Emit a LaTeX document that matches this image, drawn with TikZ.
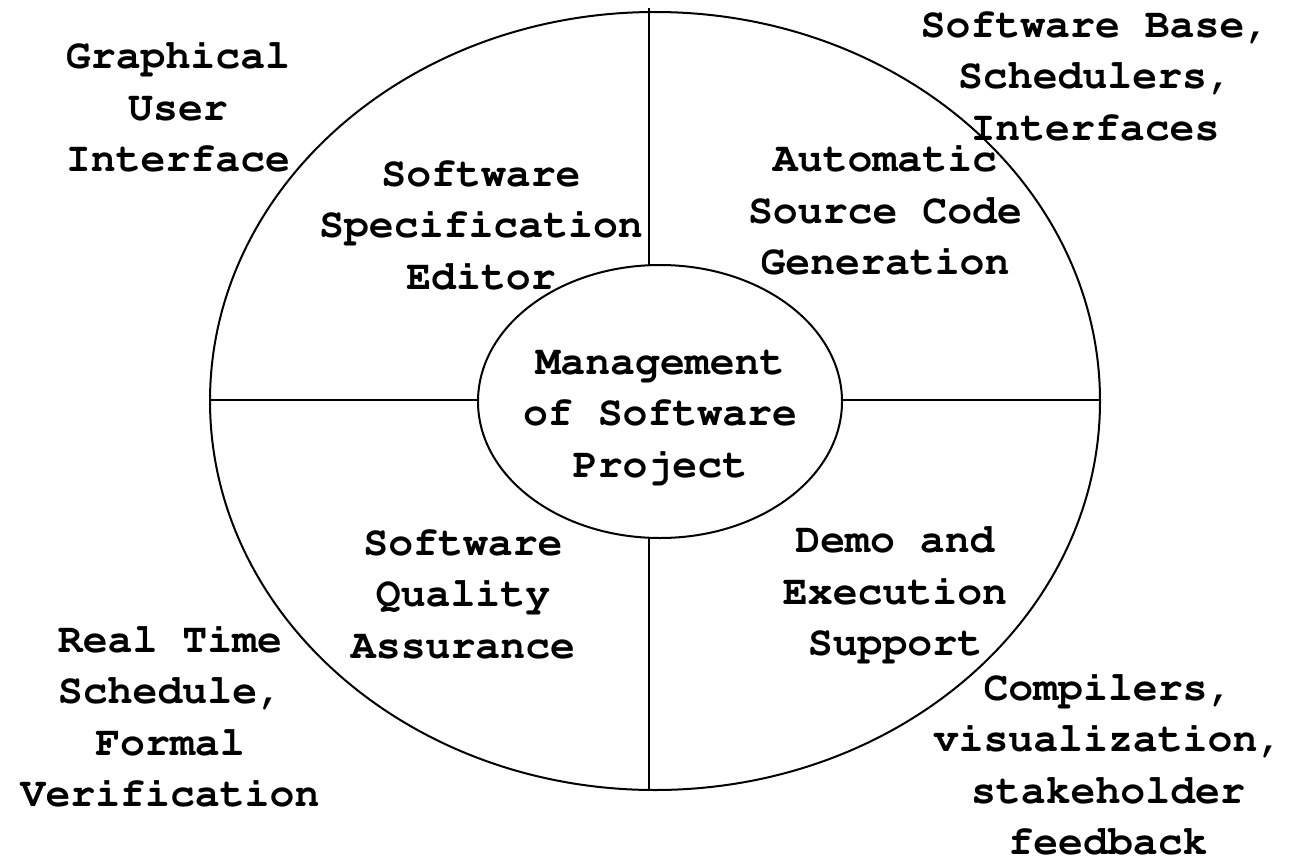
\documentclass[tikz,border=0pt]{standalone}
\usepackage[T1]{fontenc}
\usetikzlibrary{shapes.geometric}
\begin{document}
\begin{tikzpicture}[x=1pt,y=-1pt,
  rim/.style={draw=black,line width=2pt},
  lbl/.style={align=center,inner sep=0pt,
    font=\fontfamily{pcr}\bfseries\fontsize{41.5}{51.5}\selectfont}]
\useasboundingbox (0,0) rectangle (1297,862);
% outer and inner ellipses
\node[rim,ellipse,minimum width=890,minimum height=778,inner sep=0pt] (outer) at (655,401) {};
\node[rim,ellipse,minimum width=364,minimum height=273,inner sep=0pt] (inner) at (660,401.5) {};
% quadrant dividers
\coordinate (top) at (649,8);
\coordinate (bot) at (649,790);
\coordinate (lft) at (210,400);
\coordinate (rgt) at (1100,400);
\coordinate (itop) at (649,265.5);
\coordinate (ibot) at (649,537.5);
\coordinate (ilft) at (478.5,400);
\coordinate (irgt) at (841.5,400);
\draw[line width=2pt] (top) -- (itop);
\draw[line width=2pt] (ibot) -- (bot);
\draw[line width=2pt] (lft) -- (ilft);
\draw[line width=2pt] (irgt) -- (rgt);
% labels
\node[lbl] (mgmt) at (660,417) {Management\\of Software\\Project};
\node[lbl] (spec) at (481,225) {Software\\Specification\\Editor};
\node[lbl] (auto) at (885,210) {Automatic\\Source Code\\Generation};
\node[lbl] (sqa) at (463,594) {Software\\Quality\\Assurance};
\node[lbl] (demo) at (895,594) {Demo and\\Execution\\Support};
\node[lbl] (gui) at (178,107) {Graphical\\User\\Interface};
\node[lbl] (base) at (1095,76) {Software Base,\\Schedulers,\\Interfaces};
\node[lbl] (rt) at (170,716) {Real Time\\Schedule,\\Formal\\Verification};
\node[lbl] (comp) at (1108,764) {Compilers,\\visualization,\\stakeholder\\feedback};
\end{tikzpicture}
\end{document}
